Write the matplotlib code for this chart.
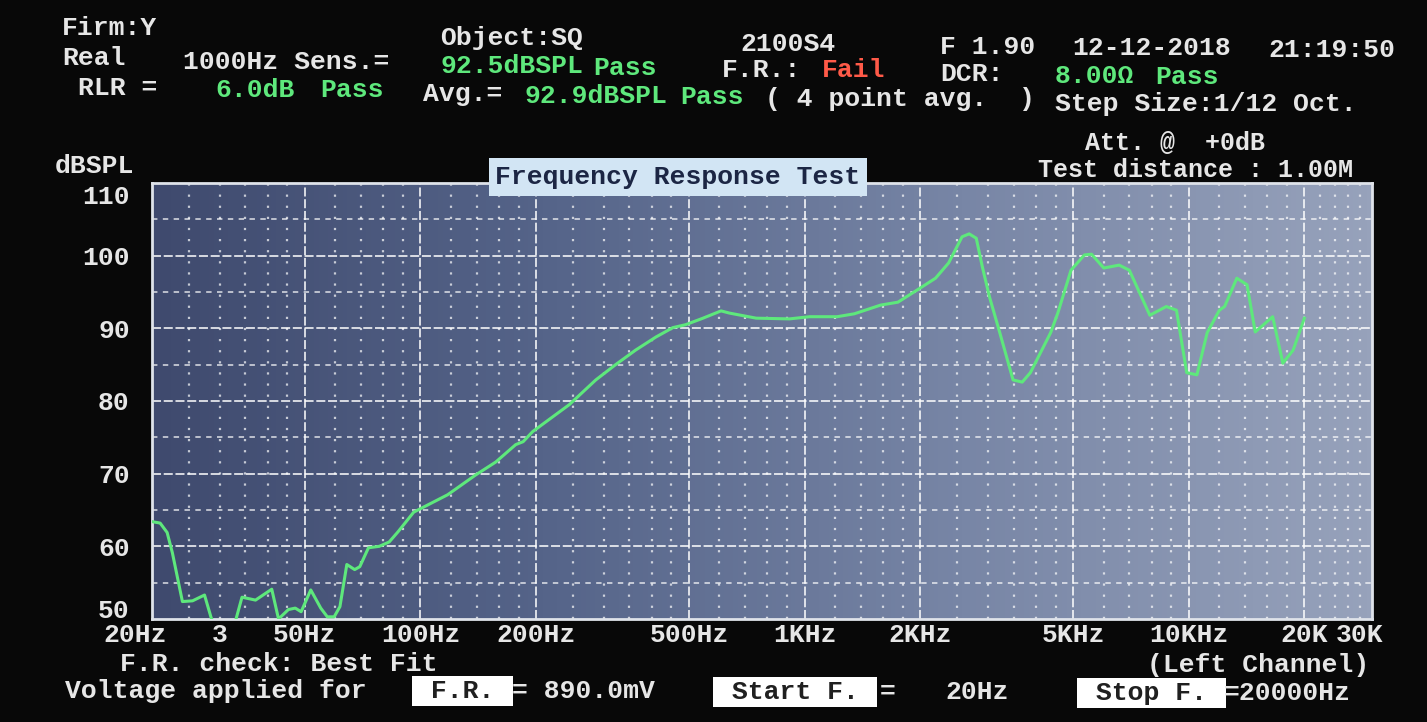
import numpy as np
import matplotlib
matplotlib.use("Agg")
import matplotlib.pyplot as plt
from matplotlib.transforms import ScaledTranslation

freq_hz = [20, 21.0, 21.9, 22.6, 24.0, 25.5, 27.4, 28.5, 29.5, 32.0, 33.1, 34.3, 37.2,
           41.0, 42.7, 45.3, 47.2, 48.9, 51.8, 55.0, 57.2, 59.6, 61.7, 64.3, 67.4, 69.5,
           73.2, 78.1, 82.9, 87.4, 96, 117.7, 139, 157, 177, 185, 196, 244, 286, 322,
           363, 410, 454, 490, 544, 606, 637, 748, 913, 1031, 1215, 1347, 1578, 1750,
           1980, 2192, 2371, 2570, 2682, 2798, 2904, 3030, 3222, 3489, 3686, 3870, 4370,
           4562, 4938, 5350, 5585, 6010, 6590, 7005, 7920, 8740, 9290, 9880, 10503, 11170,
           12020, 12400, 13340, 14180, 14900, 16540, 17580, 18700, 20000]
spl_db = [63.4, 63.2, 61.9, 59.1, 52.4, 52.5, 53.3, 50.2, 48.5, 48.5, 50.0, 53.0, 52.6,
          54.1, 50.0, 51.3, 51.5, 51.0, 54.0, 51.5, 50.3, 50.3, 51.7, 57.5, 56.8, 57.2,
          59.8, 60.0, 60.6, 62.0, 64.7, 67.1, 69.8, 71.6, 74.0, 74.4, 75.8, 79.5, 82.9, 85.0,
          87.0, 88.8, 90.1, 90.5, 91.4, 92.4, 92.1, 91.4, 91.3, 91.6, 91.6, 92.0, 93.2, 93.6,
          95.4, 96.9, 99.0, 102.6, 103.0, 102.4, 98.4, 94.3, 89.4, 82.9, 82.6, 83.9, 89.4,
          92.1, 98.0, 100.1, 100.2, 98.3, 98.7, 98.0, 91.8, 93.0, 92.5, 83.9, 83.6, 89.4,
          92.5, 93.0, 96.9, 96.0, 89.5, 91.6, 85.2, 87.0, 91.4]

x_ticks = [20, 30, 50, 100, 200, 500, 1000, 2000, 5000, 10000, 20000, 30000]
x_tick_labels = ["20Hz", "3", "50Hz", "100Hz", "200Hz", "500Hz", "1KHz", "2KHz",
                 "5KHz", "10KHz", "20K", "30K"]
x_major_grid = [50, 100, 200, 500, 1000, 2000, 5000, 10000, 20000]
x_minor_grid = [25, 30, 35, 40, 45, 60, 70, 80, 90, 120, 140, 160, 180,
                250, 300, 350, 400, 450, 600, 700, 800, 900, 1200, 1400, 1600, 1800,
                2500, 3000, 3500, 4000, 4500, 6000, 7000, 8000, 9000,
                12000, 14000, 16000, 18000, 22000, 24000, 26000, 28000]
y_ticks = [50, 60, 70, 80, 90, 100, 110]

W, H = 1427, 722
WHITE = "#e6e6e6"
GREEN = "#5ee87c"
RED = "#ff5a48"
FONT = "Liberation Mono"

fig = plt.figure(figsize=(W / 100, H / 100), dpi=100, facecolor="#080808")


def put(x, y, s, color=WHITE, size=19, **kw):
    # place text by screen pixel position (left edge, vertical centre)
    fig.text(x / W, 1 - y / H, s, color=color, fontsize=size, family=FONT,
             fontweight="bold", va="center", ha=kw.pop("ha", "left"), **kw)


def nudge(label, dx, dy):
    label.set_transform(label.get_transform()
                        + ScaledTranslation(dx / 100, -dy / 100, fig.dpi_scale_trans))


ax = fig.add_axes([152 / W, 1 - 619 / H, 1220 / W, 436 / H])
ax.set_xscale("log")
ax.set_xlim(20, 30000)
ax.set_ylim(50, 110)

# bluish screen background, darker on the left
grad = np.linspace(0, 1, 256).reshape(1, -1)
cmap = matplotlib.colors.LinearSegmentedColormap.from_list(
    "scr", ["#3f4a6e", "#56658a", "#7886a6", "#97a2bb"])
ax.imshow(grad, extent=[0, 1, 0, 1], transform=ax.transAxes, aspect="auto",
          cmap=cmap, zorder=0)

for f in x_major_grid:
    ax.axvline(f, color="white", lw=1.3, alpha=0.85, ls=(0, (5, 1.5)), zorder=1)
for f in x_minor_grid:
    ax.axvline(f, color="white", lw=1.6, alpha=0.7, ls=(0, (1, 4)), zorder=1)
for v in range(60, 110, 10):
    ax.axhline(v, color="white", lw=1.3, alpha=0.85, ls=(0, (5, 1.5)), zorder=1)
for v in range(55, 110, 10):
    ax.axhline(v, color="white", lw=1.3, alpha=0.7, ls=(0, (3, 3)), zorder=1)

ax.plot(freq_hz, spl_db, color=GREEN, lw=2.2, zorder=3)

for s in ax.spines.values():
    s.set_color("#dfe3ea")
    s.set_linewidth(2)

ax.set_xticks(x_ticks)
ax.set_xticklabels(x_tick_labels)
ax.xaxis.set_minor_locator(matplotlib.ticker.NullLocator())
ax.set_yticks(y_ticks)
ax.set_yticklabels([str(v) for v in y_ticks])
ax.tick_params(length=0, colors=WHITE, labelsize=19)
ax.tick_params(axis="x", pad=3)
ax.tick_params(axis="y", pad=16)
for lab in ax.get_xticklabels() + ax.get_yticklabels():
    lab.set_family(FONT)
    lab.set_fontweight("bold")
xl = ax.get_xticklabels()
nudge(xl[0], -17, 0)
nudge(xl[-1], -12, 0)
yl = ax.get_yticklabels()
nudge(yl[-1], 0, 11)
nudge(yl[0], 0, -10)

# header
put(62, 28, "Firm:Y")
put(440, 38, "Object:SQ")
put(740, 44, "2100S4")
put(940, 47, "F 1.90")
put(1072, 48, "12-12-2018")
put(1268, 50, "21:19:50")

put(62, 58, "Real")
put(183, 62, "1000Hz Sens.=")
put(440, 66, "92.5dBSPL", GREEN)
put(593, 68, "Pass", GREEN)
put(722, 70, "F.R.:")
put(822, 70, "Fail", RED)
put(940, 74, "DCR:")
put(1055, 76, "8.00Ω", GREEN)
put(1155, 77, "Pass", GREEN)

put(78, 88, "RLR =")
put(215, 90, "6.0dB", GREEN)
put(320, 90, "Pass", GREEN)
put(423, 94, "Avg.=")
put(525, 96, "92.9dBSPL", GREEN)
put(680, 97, "Pass", GREEN)
put(765, 99, "( 4 point avg.  )")
put(1055, 104, "Step Size:1/12 Oct.")

put(55, 166, "dBSPL")
put(1085, 143, "Att. @  +0dB", size=18)
put(1038, 170, "Test distance : 1.00M", size=18)
put(678, 177, "Frequency Response Test", color="#1c2644", ha="center",
    bbox=dict(boxstyle="square,pad=0.25", facecolor="#d2e5f4", edgecolor="none"))

# footer
put(120, 664, "F.R. check: Best Fit")
put(1147, 665, "(Left Channel)")
put(65, 691, "Voltage applied for")
put(415, 691, " F.R. ", color="#202020",
    bbox=dict(boxstyle="square,pad=0.1", facecolor="white", edgecolor="none"))
put(512, 691, "= 890.0mV")
put(716, 692, " Start F. ", color="#202020",
    bbox=dict(boxstyle="square,pad=0.1", facecolor="white", edgecolor="none"))
put(880, 692, "=")
put(945, 692, "20Hz")
put(1080, 693, " Stop F. ", color="#202020",
    bbox=dict(boxstyle="square,pad=0.1", facecolor="white", edgecolor="none"))
put(1224, 693, "=20000Hz")

fig.savefig("out.png", dpi=100, facecolor=fig.get_facecolor())
